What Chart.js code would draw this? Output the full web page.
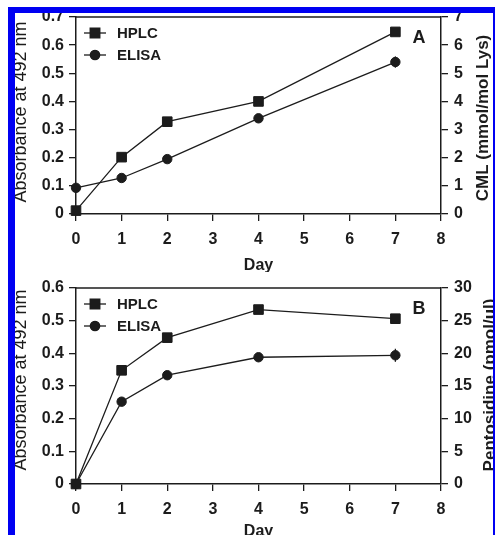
<!DOCTYPE html>
<html>
<head>
<meta charset="utf-8">
<script src="https://cdn.jsdelivr.net/npm/chart.js@4.4.0/dist/chart.umd.min.js"></script>
<style>
html, body { margin: 0; padding: 0; background: #fff; }
#frame {
    position: absolute; left: 8px; top: 7px; width: 478px; height: 540px;
    border-left: 7px solid #0000f2; border-top: 6px solid #0000f2; border-right: 2px solid #0000f2;
    overflow: hidden; background: #fff;
}
.panel { position: absolute; left: -15px; }
</style>
</head>
<body>
<div id="frame">
    <canvas id="chartA" class="panel" width="495" height="272"></canvas>
    <canvas id="chartB" class="panel" width="495" height="272"></canvas>
</div>
<script>
// days sampled
const days = [0, 1, 2, 4, 7];

// panel A: HPLC on CML axis (mmol/mol Lys), ELISA on absorbance axis
const hplcA = [0.12, 2.02, 3.28, 4.0, 6.47];
const elisaA = [0.093, 0.128, 0.195, 0.34, 0.54];
const elisaErrA = [0, 0, 0, 0, 0.02];

// panel B: HPLC on pentosidine axis (pmol/ul), ELISA on absorbance axis
const hplcB = [0, 17.4, 22.4, 26.7, 25.3];
const elisaB = [0, 0.252, 0.333, 0.388, 0.394];
const elisaErrB = [0, 0, 0, 0, 0.02];

const ink = '#1c1c1c';
const family = '"Liberation Sans", Arial, sans-serif';
Chart.defaults.font.family = family;
Chart.defaults.color = ink;

// canvases sit in page coordinates, frame content starts at (15, 13)
document.getElementById('chartA').style.top = '-13px';
document.getElementById('chartB').style.top = '257px';

const decor = {
    id: 'decor',
    afterDatasetsDraw(chart, args, o) {
        const { ctx, chartArea: a, scales } = chart;
        ctx.save();
        ctx.strokeStyle = ink;
        ctx.fillStyle = ink;
        ctx.lineWidth = 1.5;

        // top edge of the plot box
        ctx.beginPath();
        ctx.moveTo(a.left, a.top);
        ctx.lineTo(a.right, a.top);
        ctx.stroke();

        // error bars
        ctx.lineWidth = 1.3;
        chart.data.datasets.forEach(ds => {
            if (!ds.err) return;
            const ys = scales[ds.yAxisID];
            ds.data.forEach((pt, i) => {
                const e = ds.err[i];
                if (!e) return;
                const px = scales.x.getPixelForValue(pt.x);
                ctx.beginPath();
                ctx.moveTo(px, ys.getPixelForValue(pt.y - e));
                ctx.lineTo(px, ys.getPixelForValue(pt.y + e));
                ctx.stroke();
            });
        });

        // legend inside the plot
        ctx.font = 'bold 15px ' + family;
        ctx.textBaseline = 'middle';
        ctx.textAlign = 'left';
        chart.data.datasets.forEach((ds, i) => {
            const y = a.top + 16 + i * 22;
            ctx.beginPath();
            ctx.moveTo(a.left + 8, y);
            ctx.lineTo(a.left + 30, y);
            ctx.stroke();
            Chart.helpers.drawPoint(ctx, { pointStyle: ds.pointStyle, radius: ds.pointRadius, rotation: 0, borderWidth: 1 }, a.left + 19, y);
            ctx.fill();
            ctx.fillText(ds.label, a.left + 41, y + 1);
        });

        // panel letter
        ctx.font = 'bold 18px ' + family;
        ctx.textAlign = 'center';
        ctx.fillText(o.letter, a.right - 22, a.top + 21);

        // x title
        ctx.font = 'bold 16px ' + family;
        ctx.fillText('Day', (a.left + a.right) / 2, o.dayY);

        // left title
        ctx.save();
        ctx.translate(21, o.leftY);
        ctx.rotate(-Math.PI / 2);
        ctx.font = '18px ' + family;
        ctx.fillText('Absorbance at 492 nm', 0, 0);
        ctx.restore();

        // right title
        ctx.save();
        ctx.translate(o.rightX, o.rightY);
        ctx.rotate(-Math.PI / 2);
        ctx.font = 'bold 17px ' + family;
        ctx.fillText(o.rightTitle, 0, 0);
        ctx.restore();

        ctx.restore();
    }
};

function axisBase(extra) {
    return Object.assign({
        grid: { drawOnChartArea: false, tickLength: 7, color: ink, lineWidth: 1.3 },
        border: { color: ink, width: 1.5 }
    }, extra);
}

function makeChart(id, p) {
    return new Chart(document.getElementById(id), {
        type: 'line',
        data: {
            datasets: [{
                label: 'HPLC',
                data: days.map((d, i) => ({ x: d, y: p.hplc[i] })),
                yAxisID: 'y2',
                pointStyle: 'rect',
                pointRadius: 6.8,
                borderColor: ink,
                backgroundColor: ink,
                borderWidth: 1.3,
                pointBorderWidth: 1,
                clip: false
            }, {
                label: 'ELISA',
                data: days.map((d, i) => ({ x: d, y: p.elisa[i] })),
                err: p.err,
                yAxisID: 'y',
                pointStyle: 'circle',
                pointRadius: 4.7,
                borderColor: ink,
                backgroundColor: ink,
                borderWidth: 1.3,
                pointBorderWidth: 1,
                clip: false
            }]
        },
        options: {
            responsive: false,
            animation: false,
            layout: { padding: { top: p.top } },
            plugins: {
                legend: { display: false },
                tooltip: { enabled: false },
                decor: p.decor
            },
            scales: {
                x: axisBase({
                    type: 'linear', min: 0, max: 8,
                    ticks: { stepSize: 1, padding: 9, font: { size: 16, weight: 'bold' } },
                    afterFit: s => { s.height = 272 - 214; }
                }),
                y: axisBase({
                    position: 'left', min: 0, max: p.leftMax,
                    ticks: { stepSize: p.leftStep, padding: 5, font: { size: 16, weight: 'bold' } },
                    afterFit: s => { s.width = 76; }
                }),
                y2: axisBase({
                    position: 'right', min: 0, max: p.rightMax,
                    ticks: { stepSize: p.rightStep, padding: 6, font: { size: 16, weight: 'bold' } },
                    afterFit: s => { s.width = 54; }
                })
            }
        },
        plugins: [decor]
    });
}

makeChart('chartA', {
    hplc: hplcA, elisa: elisaA, err: elisaErrA, top: 17,
    leftMax: 0.7, leftStep: 0.1, rightMax: 7, rightStep: 1,
    decor: { letter: 'A', dayY: 266, leftY: 112, rightX: 483, rightY: 118, rightTitle: 'CML (mmol/mol Lys)' }
});

makeChart('chartB', {
    hplc: hplcB, elisa: elisaB, err: elisaErrB, top: 18,
    leftMax: 0.6, leftStep: 0.1, rightMax: 30, rightStep: 5,
    decor: { letter: 'B', dayY: 262, leftY: 110, rightX: 490, rightY: 115, rightTitle: 'Pentosidine (pmol/ul)' }
});
</script>
</body>
</html>
